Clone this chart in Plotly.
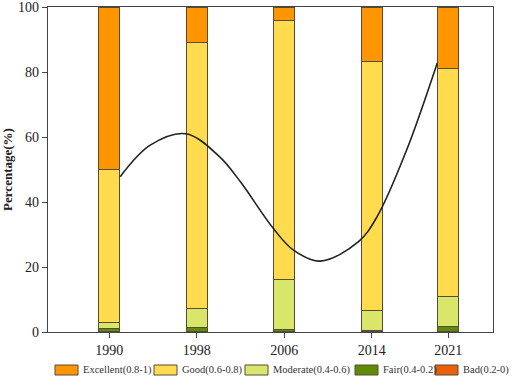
import plotly.graph_objects as go

years = [1990, 1998, 2006, 2014, 2021]
bad = [0.2, 0.2, 0.2, 0.1, 0.2]
fair = [0.9, 1.2, 0.6, 0.5, 1.4]
moderate = [1.8, 5.7, 15.5, 5.9, 9.2]
good = [47.1, 81.9, 79.5, 76.6, 70.2]
excellent = [50.0, 11.0, 4.2, 16.9, 19.0]

curve_x = [1991.0, 1993.75, 1997.0, 2000.1, 2002.0, 2005.0, 2006.85, 2009.3, 2012.8, 2014.5, 2017.2, 2020.0]
curve_y = [47.8, 57.5, 61.0, 53.9, 46.2, 31.9, 25.2, 21.8, 27.8, 35.5, 56.0, 82.8]

series = [
    ("Bad(0.2-0)", bad, "#E8600A"),
    ("Fair(0.4-0.2)", fair, "#5E8C00"),
    ("Moderate(0.4-0.6)", moderate, "#D8E66A"),
    ("Good(0.6-0.8)", good, "#FFDB4D"),
    ("Excellent(0.8-1)", excellent, "#FF9500"),
]
# legend box left edges (pixels) in legend order: Excellent, Good, Moderate, Fair, Bad
legend_px = [55, 154, 245, 355, 435]

W, H = 512, 379
L, R, T, B = 48, 19, 7, 47
pw, ph = W - L - R, H - T - B

fig = go.Figure()
for name, vals, col in series:
    fig.add_trace(go.Bar(
        x=years, y=vals, name=name, width=1.9, showlegend=False,
        marker=dict(color=col, line=dict(color="#5a4a3a", width=1)),
    ))

fig.add_trace(go.Scatter(
    x=curve_x, y=curve_y, mode="lines", showlegend=False,
    line=dict(color="#222222", width=1.6, shape="spline", smoothing=1.0),
))

font = "Liberation Serif, Times New Roman, serif"

# manual legend (wide rectangles like the reference)
shapes, annotations = [], []
for (name, vals, col), px in zip(series[::-1], legend_px):
    x0 = (px - L) / pw
    x1 = (px + 23 - L) / pw
    y0 = (T + ph - 375) / ph
    y1 = (T + ph - 365) / ph
    shapes.append(dict(type="rect", xref="paper", yref="paper", x0=x0, x1=x1, y0=y0, y1=y1,
                       fillcolor=col, line=dict(color="#5a4a3a", width=1)))
    annotations.append(dict(xref="paper", yref="paper", x=(px + 26 - L) / pw, y=(y0 + y1) / 2,
                            text=name, showarrow=False, xanchor="left", yanchor="middle",
                            font=dict(family=font, size=10.5, color="#333")))

fig.update_layout(
    width=W, height=H,
    margin=dict(l=L, r=R, t=T, b=B, autoexpand=False),
    barmode="stack",
    plot_bgcolor="white", paper_bgcolor="white",
    font=dict(family=font, size=14, color="#222"),
    showlegend=False,
    shapes=shapes, annotations=annotations,
    xaxis=dict(range=[1984.4, 2025.1], tickmode="array", tickvals=years,
               ticktext=[str(y) for y in years],
               showline=True, linecolor="#444", linewidth=1.2, mirror=True,
               ticks="outside", ticklen=5, tickcolor="#444", showgrid=False,
               zeroline=False, tickfont=dict(size=14), automargin=False,
               ticklabeloverflow="allow"),
    yaxis=dict(range=[0, 100], tickvals=[0, 20, 40, 60, 80, 100],
               showline=True, linecolor="#444", linewidth=1.2, mirror=True,
               ticks="outside", ticklen=5, tickcolor="#444", showgrid=False,
               zeroline=False, tickfont=dict(size=14), automargin=False,
               ticklabeloverflow="allow",
               title=dict(text="<b>Percentage(%)</b>", font=dict(size=13), standoff=6)),
)

fig.write_html("out.html", config={"displayModeBar": False},
               post_script="document.body.style.margin='0';")
